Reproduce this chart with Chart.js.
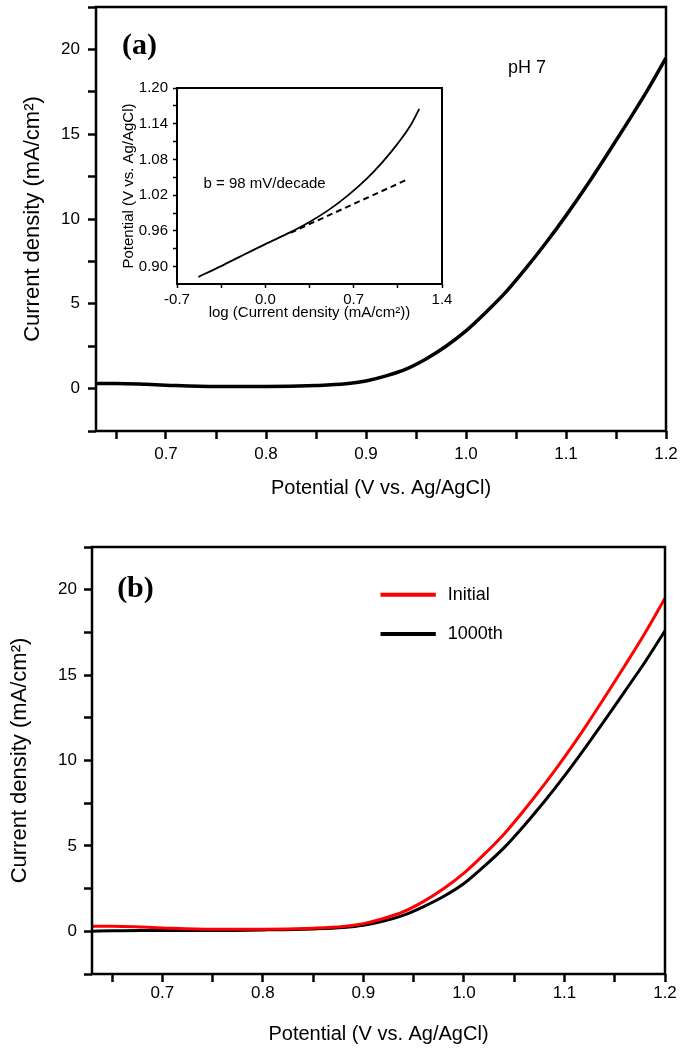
<!DOCTYPE html>
<html>
<head>
<meta charset="utf-8">
<script src="https://cdn.jsdelivr.net/npm/chart.js@4.4.0/dist/chart.umd.min.js"></script>
<style>
  html, body { margin: 0; padding: 0; background: #fff; }
  #wrap { position: relative; width: 685px; height: 1048px; overflow: hidden; }
  canvas { position: absolute; }
</style>
</head>
<body>
<div id="wrap">
  <canvas id="chartA" width="685" height="520" style="left:0;top:0"></canvas>
  <canvas id="chartInset" width="345" height="255" style="left:115px;top:70px"></canvas>
  <canvas id="chartB" width="685" height="508" style="left:0;top:540px"></canvas>
</div>
<script>
// LSV data, potential in V vs. Ag/AgCl, current density in mA/cm2
const potential = [0.63, 0.65, 0.68, 0.70, 0.75, 0.80, 0.85, 0.88, 0.90, 0.92, 0.94, 0.96,
                   0.98, 1.00, 1.02, 1.04, 1.06, 1.08, 1.10, 1.12, 1.14, 1.16, 1.18, 1.20];
const currentInitial = [0.30, 0.30, 0.25, 0.20, 0.12, 0.12, 0.18, 0.28, 0.45, 0.75, 1.15, 1.75,
                        2.5, 3.4, 4.5, 5.7, 7.1, 8.6, 10.2, 11.9, 13.7, 15.55, 17.45, 19.5];
const current1000th = [0.00, 0.03, 0.05, 0.05, 0.05, 0.08, 0.14, 0.22, 0.35, 0.60, 0.95, 1.45,
                       2.05, 2.8, 3.8, 4.9, 6.2, 7.6, 9.1, 10.7, 12.35, 14.05, 15.75, 17.6];

// Tafel inset
const logJ = [-0.53, -0.35, -0.2, 0.0, 0.2, 0.35, 0.5, 0.65, 0.8, 0.93, 1.05, 1.15, 1.22];
const tafelE = [0.883, 0.901, 0.917, 0.938, 0.958, 0.975, 0.995, 1.019, 1.047, 1.076, 1.107, 1.137, 1.165];
const fitLogJ = [0.2, 1.12];
const fitE = [0.957, 1.046];

// ticks
const xTicksMain = [0.65, 0.70, 0.75, 0.80, 0.85, 0.90, 0.95, 1.00, 1.05, 1.10, 1.15, 1.20];
const xLabelsMain = [0.7, 0.8, 0.9, 1.0, 1.1, 1.2];
const yTicksMain = [-2.5, 0, 2.5, 5, 7.5, 10, 12.5, 15, 17.5, 20, 22.5];
const yLabelsMain = [0, 5, 10, 15, 20];
const xTicksInset = [-0.7, -0.35, 0, 0.35, 0.7, 1.05, 1.4];
const xLabelsInset = [-0.7, 0.0, 0.7, 1.4];
const yTicksInset = [0.90, 0.93, 0.96, 0.99, 1.02, 1.05, 1.08, 1.11, 1.14, 1.17, 1.20];
const yLabelsInset = [0.90, 0.96, 1.02, 1.08, 1.14, 1.20];

const FONT = "'Liberation Sans', Arial, sans-serif";
const pts = (xs, ys) => xs.map((x, i) => ({ x: x, y: ys[i] }));

function axis(cfg) {
  return {
    type: 'linear',
    position: cfg.position,
    min: cfg.min,
    max: cfg.max,
    afterBuildTicks: function (s) {
      s.ticks = cfg.ticks.map(v => ({ value: v }));
    },
    afterFit: function (s) {
      if (cfg.position === 'bottom') s.height = cfg.size; else s.width = cfg.size;
      s.paddingTop = s.paddingBottom = s.paddingLeft = s.paddingRight = 0;
    },
    grid: {
      drawOnChartArea: false,
      tickLength: cfg.tickLength,
      tickWidth: cfg.tickWidth,
      tickColor: '#000'
    },
    border: { display: false },
    ticks: {
      autoSkip: false,
      maxRotation: 0,
      padding: cfg.padding,
      color: '#000',
      font: { family: FONT, size: cfg.fontSize },
      callback: function (v) {
        return cfg.labels.some(l => Math.abs(l - v) < 1e-9) ? v.toFixed(cfg.decimals) : '';
      }
    },
    title: {
      display: true,
      text: cfg.title,
      color: '#000',
      font: { family: FONT, size: cfg.titleSize },
      padding: cfg.titlePadding
    }
  };
}

// box around the plot area + text notes + hand drawn key
const decorPlugin = {
  id: 'decor',
  afterDraw(chart, args, opts) {
    const { ctx, chartArea: a, scales } = chart;
    const sx = scales.x, sy = scales.y;
    ctx.save();
    ctx.strokeStyle = '#000';
    ctx.lineWidth = opts.frame;
    ctx.strokeRect(a.left, a.top, a.right - a.left, a.bottom - a.top);
    (opts.notes || []).forEach(n => {
      ctx.font = n.font;
      ctx.fillStyle = '#000';
      ctx.textAlign = 'left';
      ctx.textBaseline = 'middle';
      ctx.fillText(n.text, sx.getPixelForValue(n.x), sy.getPixelForValue(n.y));
    });
    if (opts.key) {
      const k = opts.key;
      chart.data.datasets.forEach((ds, i) => {
        const x0 = sx.getPixelForValue(k.x0), x1 = sx.getPixelForValue(k.x1);
        const y = sy.getPixelForValue(k.y[i]);
        ctx.strokeStyle = ds.borderColor;
        ctx.lineWidth = k.width;
        ctx.beginPath();
        ctx.moveTo(x0, y);
        ctx.lineTo(x1, y);
        ctx.stroke();
        ctx.font = k.font;
        ctx.fillStyle = '#000';
        ctx.textAlign = 'left';
        ctx.textBaseline = 'middle';
        ctx.fillText(ds.label, x1 + k.gap, y);
      });
    }
    ctx.restore();
  }
};

const yTitle = 'Current density (mA/cm\u00B2)';
const xTitle = 'Potential (V vs. Ag/AgCl)';

// (a)
new Chart(document.getElementById('chartA'), {
  type: 'line',
  data: {
    datasets: [{
      label: 'pH 7',
      data: pts(potential, currentInitial),
      borderColor: '#000',
      borderWidth: 3.5,
      pointRadius: 0,
      cubicInterpolationMode: 'monotone'
    }]
  },
  options: {
    responsive: false,
    animation: false,
    layout: { padding: { left: 0, right: 19, top: 7, bottom: 14 } },
    plugins: {
      legend: { display: false },
      tooltip: { enabled: false },
      decor: {
        frame: 2.5,
        notes: [
          { text: '(a)', x: 0.656, y: 20.2, font: "bold 30px 'Liberation Serif', 'Times New Roman', serif" },
          { text: 'pH 7', x: 1.042, y: 18.9, font: "18px " + FONT }
        ]
      }
    },
    scales: {
      x: axis({ position: 'bottom', min: 0.63, max: 1.2, ticks: xTicksMain, labels: xLabelsMain, decimals: 1,
                size: 75, tickLength: 8, tickWidth: 2.5, padding: 5, fontSize: 17,
                title: xTitle, titleSize: 20, titlePadding: { top: 0, bottom: 6 } }),
      y: axis({ position: 'left', min: -2.5, max: 22.5, ticks: yTicksMain, labels: yLabelsMain, decimals: 0,
                size: 96, tickLength: 8, tickWidth: 2.5, padding: 8, fontSize: 17,
                title: yTitle, titleSize: 22, titlePadding: { top: 20, bottom: 0 } })
    }
  },
  plugins: [decorPlugin]
});

// inset: Tafel plot
new Chart(document.getElementById('chartInset'), {
  type: 'line',
  data: {
    datasets: [{
      label: 'Tafel',
      data: pts(logJ, tafelE),
      borderColor: '#000',
      borderWidth: 1.8,
      pointRadius: 0,
      cubicInterpolationMode: 'monotone'
    }, {
      label: 'fit',
      data: pts(fitLogJ, fitE),
      borderColor: '#000',
      borderWidth: 2,
      borderDash: [6, 4],
      pointRadius: 0
    }]
  },
  options: {
    responsive: false,
    animation: false,
    layout: { padding: { left: 0, right: 18, top: 18, bottom: 0 } },
    plugins: {
      legend: { display: false },
      tooltip: { enabled: false },
      decor: {
        frame: 2,
        notes: [
          { text: 'b = 98 mV/decade', x: -0.49, y: 1.039, font: "15px " + FONT }
        ]
      }
    },
    scales: {
      x: axis({ position: 'bottom', min: -0.7, max: 1.4, ticks: xTicksInset, labels: xLabelsInset, decimals: 1,
                size: 41, tickLength: 4, tickWidth: 1.5, padding: 3, fontSize: 15,
                title: 'log (Current density (mA/cm\u00B2))', titleSize: 15, titlePadding: { top: 0, bottom: 3 } }),
      y: axis({ position: 'left', min: 0.871, max: 1.2, ticks: yTicksInset, labels: yLabelsInset, decimals: 2,
                size: 62, tickLength: 4, tickWidth: 1.5, padding: 5, fontSize: 15,
                title: xTitle, titleSize: 15, titlePadding: { top: 5, bottom: 0 } })
    }
  },
  plugins: [decorPlugin]
});

// (b)
new Chart(document.getElementById('chartB'), {
  type: 'line',
  data: {
    datasets: [{
      label: 'Initial',
      data: pts(potential, currentInitial),
      borderColor: '#ff0000',
      borderWidth: 3,
      pointRadius: 0,
      cubicInterpolationMode: 'monotone'
    }, {
      label: '1000th',
      data: pts(potential, current1000th),
      borderColor: '#000',
      borderWidth: 3,
      pointRadius: 0,
      cubicInterpolationMode: 'monotone'
    }]
  },
  options: {
    responsive: false,
    animation: false,
    layout: { padding: { left: 0, right: 20, top: 7, bottom: 2 } },
    plugins: {
      legend: { display: false },
      tooltip: { enabled: false },
      decor: {
        frame: 2.5,
        notes: [
          { text: '(b)', x: 0.655, y: 20.0, font: "bold 30px 'Liberation Serif', 'Times New Roman', serif" }
        ],
        key: { x0: 0.917, x1: 0.972, y: [19.7, 17.4], width: 4, gap: 12, font: "18px " + FONT }
      }
    },
    scales: {
      x: axis({ position: 'bottom', min: 0.63, max: 1.2, ticks: xTicksMain, labels: xLabelsMain, decimals: 1,
                size: 72, tickLength: 8, tickWidth: 2.5, padding: 1, fontSize: 17,
                title: xTitle, titleSize: 20, titlePadding: { top: 0, bottom: 0 } }),
      y: axis({ position: 'left', min: -2.5, max: 22.5, ticks: yTicksMain, labels: yLabelsMain, decimals: 0,
                size: 92, tickLength: 8, tickWidth: 2.5, padding: 7, fontSize: 17,
                title: yTitle, titleSize: 22, titlePadding: { top: 7, bottom: 0 } })
    }
  },
  plugins: [decorPlugin]
});
</script>
</body>
</html>
